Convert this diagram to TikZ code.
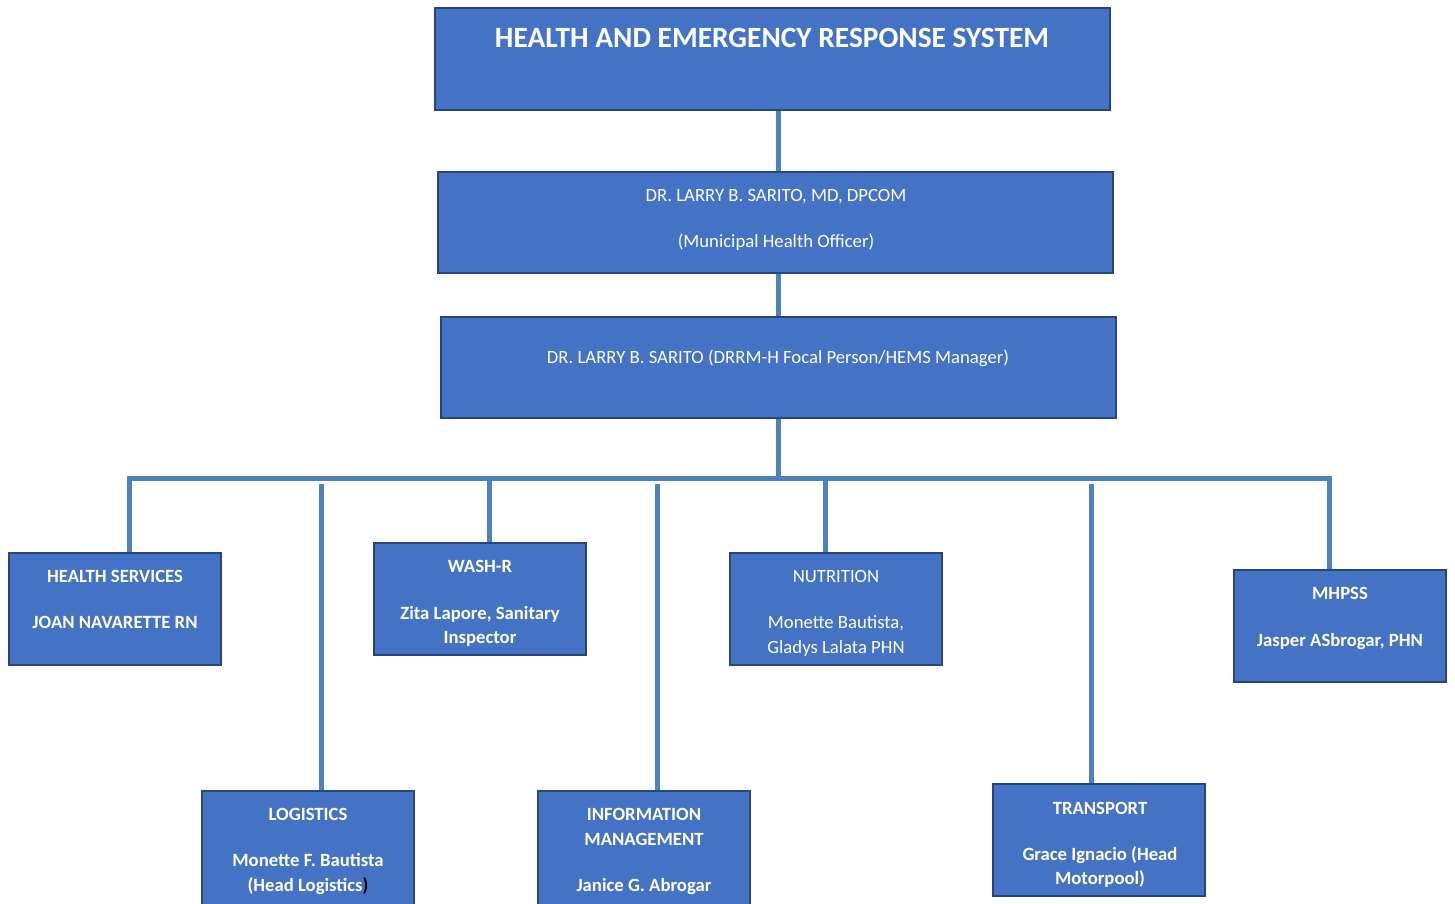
\documentclass[tikz,border=0pt]{standalone}
\usepackage{fontspec}
\setmainfont{Carlito}
\definecolor{boxfill}{HTML}{4472C4}
\definecolor{boxline}{HTML}{26457F}
\definecolor{connline}{HTML}{4F81BD}
\begin{document}
\begin{tikzpicture}[x=1pt,y=-1pt,
  unit/.style={draw=boxline, line width=2.5pt, fill=boxfill, inner sep=0pt, minimum width=212pt, minimum height=112pt},
  wide/.style={unit, minimum width=675pt, minimum height=101pt},
  conn/.style={draw=connline, line width=5pt},
  txt/.style={text=white, inner sep=0pt, anchor=base, font=\fontsize{18.7}{24.5}\selectfont},
  btxt/.style={txt, font=\fontsize{18.7}{24.5}\selectfont\bfseries},
  ttxt/.style={txt, font=\fontsize{29.4}{36}\selectfont\bfseries}]
\useasboundingbox (0,0) rectangle (1455,903);
\clip (0,0) rectangle (1455,903);

% bus and junction points
\coordinate (bl) at (129,478);
\coordinate (br) at (1329,478);
\coordinate (jmid) at (778,478);
\coordinate (jwash) at (489,478);
\coordinate (jnut) at (825,478);
\coordinate (jlog) at (321,484);
\coordinate (jim) at (657,484);
\coordinate (jtr) at (1091,484);

% boxes
\node[wide, minimum height=102pt] (hems) at (772.5,59) {};
\node[wide] (mho) at (775.5,222.5) {};
\node[wide] (mgr) at (778.5,367.5) {};
\node[unit] (hs) at (115,609) {};
\node[unit] (wash) at (480,599) {};
\node[unit] (nut) at (836,609) {};
\node[unit] (mh) at (1340,626) {};
\node[unit, minimum height=140pt] (lg) at (308,861) {};
\node[unit, minimum height=140pt] (im) at (644,861) {};
\node[unit] (tr) at (1099,840) {};

% connectors
\draw[conn] (hems.south -| jmid) -- (mho.north -| jmid);
\draw[conn] (mho.south -| jmid) -- (mgr.north -| jmid);
\draw[conn] (mgr.south -| jmid) -- (jmid);
\draw[conn] (bl |- hs.north) -- (bl) -- (br) -- (br |- mh.north);
\draw[conn] (jwash) -- (jwash |- wash.north);
\draw[conn] (jnut) -- (jnut |- nut.north);
\draw[conn] (jlog) -- (jlog |- lg.north);
\draw[conn] (jim) -- (jim |- im.north);
\draw[conn] (jtr) -- (jtr |- tr.north);

% texts
\node[ttxt] (hems-t) at (772,47.5) {HEALTH AND EMERGENCY RESPONSE SYSTEM};
\node[txt] (mho-a) at (776,201) {DR. LARRY B. SARITO, MD, DPCOM};
\node[txt] (mho-b) at (776,247) {(Municipal Health Officer)};
\node[txt] (mgr-a) at (778,363) {DR. LARRY B. SARITO (DRRM-H Focal Person/HEMS Manager)};
\node[btxt] (hs-a) at (115,582) {HEALTH SERVICES};
\node[btxt] (hs-b) at (115,628) {JOAN NAVARETTE RN};
\node[btxt] (wash-a) at (480,572) {WASH-R};
\node[btxt] (wash-b) at (480,619) {Zita Lapore, Sanitary};
\node[btxt] (wash-c) at (480,643) {Inspector};
\node[txt] (nut-a) at (836,582) {NUTRITION};
\node[txt] (nut-b) at (836,628) {Monette Bautista,};
\node[txt] (nut-c) at (836,653) {Gladys Lalata PHN};
\node[btxt] (mh-a) at (1340,599) {MHPSS};
\node[btxt] (mh-b) at (1340,646) {Jasper ASbrogar, PHN};
\node[btxt] (lg-a) at (308,820) {LOGISTICS};
\node[btxt] (lg-b) at (308,866) {Monette F. Bautista};
\node[btxt] (lg-c) at (308,891) {(Head Logistics\textcolor{black}{)}};
\node[btxt] (im-a) at (644,820) {INFORMATION};
\node[btxt] (im-b) at (644,845) {MANAGEMENT};
\node[btxt] (im-c) at (644,891) {Janice G. Abrogar};
\node[btxt] (tr-a) at (1100,814) {TRANSPORT};
\node[btxt] (tr-b) at (1100,860) {Grace Ignacio (Head};
\node[btxt] (tr-c) at (1100,884) {Motorpool)};
\end{tikzpicture}
\end{document}
